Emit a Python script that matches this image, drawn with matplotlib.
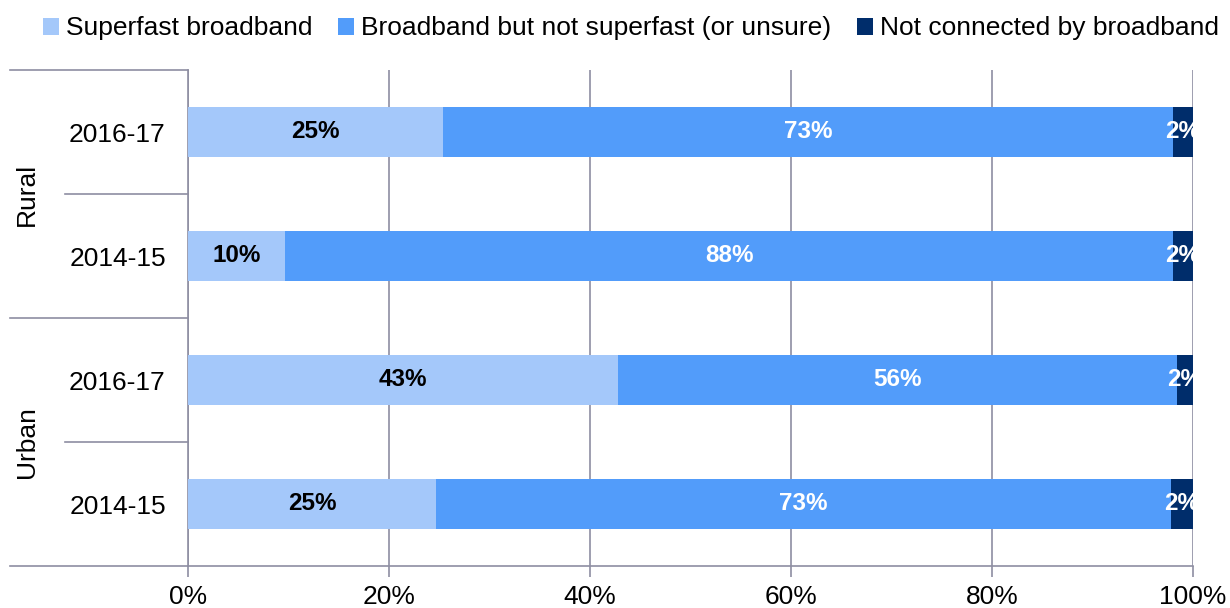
import matplotlib
matplotlib.use("Agg")
import matplotlib.pyplot as plt
from matplotlib.patches import Patch
from matplotlib.transforms import blended_transform_factory

plt.rcParams['font.family'] = ['Liberation Sans', 'DejaVu Sans']

# Rows listed bottom to top
groups = ['Urban', 'Urban', 'Rural', 'Rural']
periods = ['2014-15', '2016-17', '2014-15', '2016-17']
superfast = [24.7, 42.8, 9.7, 25.4]
not_superfast = [73.1, 55.6, 88.3, 72.6]
not_connected = [2.2, 1.6, 2.0, 2.0]

series_names = ['Superfast broadband',
                'Broadband but not superfast (or unsure)',
                'Not connected by broadband']
colors = ['#A4C8FA', '#529CFA', '#002D6B']
label_colors = ['black', 'white', 'white']
grid_color = '#8E8EA2'

fig = plt.figure(figsize=(12.3, 6.08), dpi=100)
ax = fig.add_axes([188 / 1230, 1 - 566 / 608, 1005 / 1230, 496 / 608])

ypos = list(range(len(periods)))
left = [0.0] * len(periods)
for vals, col, lc in zip([superfast, not_superfast, not_connected], colors, label_colors):
    ax.barh(ypos, vals, left=left, height=0.4, color=col, zorder=3)
    for y, v, l in zip(ypos, vals, left):
        ax.text(l + v / 2, y, f'{v:.0f}%', ha='center', va='center',
                fontsize=17.5, fontweight='bold', color=lc, zorder=4, clip_on=True)
    left = [l + v for l, v in zip(left, vals)]

ax.set_xlim(0, 100)
ax.set_ylim(-0.5, len(periods) - 0.5)
ax.set_xticks(range(0, 101, 20))
ax.set_xticklabels([f'{t}%' for t in range(0, 101, 20)], fontsize=19)
ax.set_yticks(ypos)
ax.set_yticklabels(periods, fontsize=19)
ax.tick_params(axis='y', length=0, pad=16)
ax.tick_params(axis='x', length=8, width=1.2, color=grid_color, pad=6)
ax.xaxis.grid(True, color=grid_color, linewidth=1.2, zorder=0)

for side in ['top', 'right']:
    ax.spines[side].set_visible(False)
for side in ['left', 'bottom']:
    ax.spines[side].set_color(grid_color)
    ax.spines[side].set_linewidth(1.2)

# Category separators running out to the left of the plot
trans = blended_transform_factory(ax.transAxes, ax.transData)
outer_x, inner_x = -0.177, -0.1224
for y in [-0.5, 1.5, 3.5]:
    ax.plot([outer_x, 0], [y, y], color=grid_color, linewidth=1.2,
            transform=trans, clip_on=False)
for y in [0.5, 2.5]:
    ax.plot([inner_x, 0], [y, y], color=grid_color, linewidth=1.2,
            transform=trans, clip_on=False)

for name, y in [('Urban', 0.5), ('Rural', 2.5)]:
    ax.text(-0.160, y, name, rotation=90, ha='center', va='center',
            fontsize=19, transform=trans)

handles = [Patch(facecolor=c, edgecolor='none') for c in colors]
fig.legend(handles, series_names, loc='upper center', bbox_to_anchor=(0.513, 1.012),
           ncol=3, frameon=False, fontsize=19, handlelength=0.6, handleheight=0.6,
           handletextpad=0.25, columnspacing=1.0)

fig.savefig('out.png', dpi=100)
